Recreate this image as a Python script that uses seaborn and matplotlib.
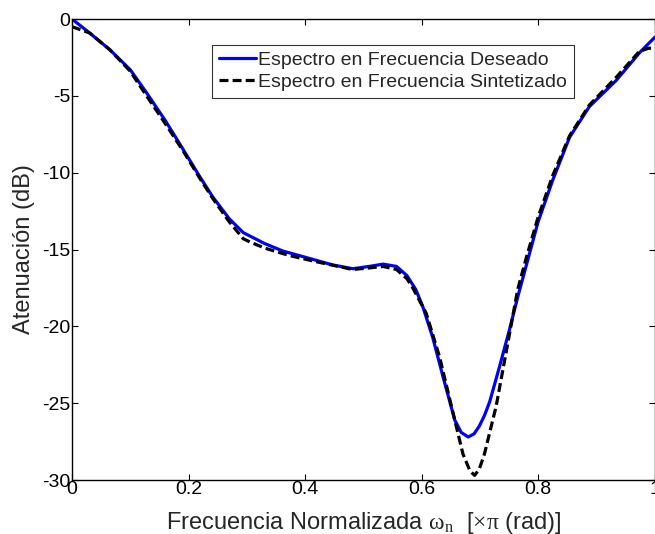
import matplotlib
matplotlib.use('Agg')
import matplotlib.pyplot as plt
import seaborn as sns
import pandas as pd

# Espectro deseado (azul)
w_deseado = [0.0, 0.03, 0.065, 0.1, 0.128, 0.16, 0.191, 0.22, 0.242, 0.27, 0.294, 0.33,
             0.362, 0.4, 0.447, 0.482, 0.51, 0.534, 0.557, 0.575, 0.59, 0.602, 0.619, 0.637,
             0.657, 0.668, 0.68, 0.69, 0.699, 0.708, 0.717, 0.734, 0.751, 0.765, 0.78, 0.8, 0.825,
             0.854, 0.888, 0.934, 0.974, 1.0]
a_deseado = [0.0, -0.9, -2.0, -3.3, -4.8, -6.6, -8.5, -10.3, -11.6, -13.0, -13.9, -14.6,
             -15.1, -15.5, -16.0, -16.25, -16.1, -15.95, -16.1, -16.7, -17.6, -18.7, -20.7, -23.3,
             -26.1, -26.9, -27.2, -27.0, -26.5, -25.8, -24.9, -22.6, -20.2, -18.1, -16.0, -13.2, -10.5,
             -7.7, -5.7, -4.0, -2.2, -1.2]

# Espectro sintetizado (negro discontinuo)
w_sint = [0.0, 0.03, 0.065, 0.1, 0.128, 0.16, 0.191, 0.22, 0.242, 0.27, 0.294, 0.305, 0.33,
          0.374, 0.42, 0.482, 0.51, 0.534, 0.557, 0.575, 0.585, 0.608, 0.631, 0.657, 0.671,
          0.683, 0.691, 0.699, 0.708, 0.728, 0.748, 0.765, 0.78, 0.8, 0.825, 0.854, 0.888,
          0.934, 0.974, 0.99, 1.0]
a_sint = [-0.5, -0.9, -2.0, -3.4, -5.0, -6.8, -8.6, -10.4, -11.7, -13.2, -14.3, -14.5, -14.9,
          -15.4, -15.8, -16.3, -16.2, -16.1, -16.3, -16.9, -17.5, -19.15, -22.0, -26.1, -28.3,
          -29.4, -29.7, -29.3, -28.3, -25.2, -21.1, -17.6, -15.5, -12.9, -10.2, -7.6, -5.6,
          -3.8, -2.1, -1.9, -1.9]

leyenda = ['Espectro en Frecuencia Deseado', 'Espectro en Frecuencia Sintetizado']

df_d = pd.DataFrame({'w': w_deseado, 'a': a_deseado})
df_s = pd.DataFrame({'w': w_sint, 'a': a_sint})

sns.set_style('ticks')
plt.rcParams['font.family'] = ['Liberation Sans', 'DejaVu Sans']
plt.rcParams['mathtext.fontset'] = 'custom'
plt.rcParams['mathtext.rm'] = 'Liberation Serif'
plt.rcParams['mathtext.it'] = 'Liberation Serif'
plt.rcParams['mathtext.sf'] = 'Liberation Sans'

fig = plt.figure(figsize=(6.55, 5.34), dpi=100)
ax = fig.add_axes([0.1099, 0.1011, 0.8895, 0.8633])

sns.lineplot(data=df_d, x='w', y='a', ax=ax, color='#0000ff', linewidth=2.3,
             label=leyenda[0], sort=False, estimator=None)
sns.lineplot(data=df_s, x='w', y='a', ax=ax, color='black', linewidth=2.3,
             label=leyenda[1], sort=False, estimator=None)
ax.lines[1].set_dashes((2.8, 1.3))

ax.set_xlim(0, 1)
ax.set_ylim(-30, 0)
ax.set_xticks([0, 0.2, 0.4, 0.6, 0.8, 1])
ax.set_xticklabels(['0', '0.2', '0.4', '0.6', '0.8', '1'])
ax.set_yticks([0, -5, -10, -15, -20, -25, -30])
ax.set_yticklabels(['0', '-5', '-10', '-15', '-20', '-25', '-30'])
ax.tick_params(direction='in', length=4, width=0.8, top=True, right=True,
               labelsize=14, colors='black', pad=1)
for s in ax.spines.values():
    s.set_visible(True)
    s.set_color('black')
    s.set_linewidth(1.0)

ax.set_xlabel(r'Frecuencia Normalizada $\mathrm{\omega_n}$  [$\mathrm{\times\pi}$ (rad)]',
              fontsize=17, labelpad=8)
ax.set_ylabel('Atenuación (dB)', fontsize=17, labelpad=5)

leg = ax.legend(loc='upper left', bbox_to_anchor=(0.24, 0.944), borderaxespad=0,
                fontsize=14, frameon=True, fancybox=False, handlelength=1.9,
                handletextpad=0.15, borderpad=0.35, labelspacing=0.2)
leg.get_frame().set_edgecolor('black')
leg.get_frame().set_linewidth(0.8)

fig.savefig('out.png', dpi=100)
